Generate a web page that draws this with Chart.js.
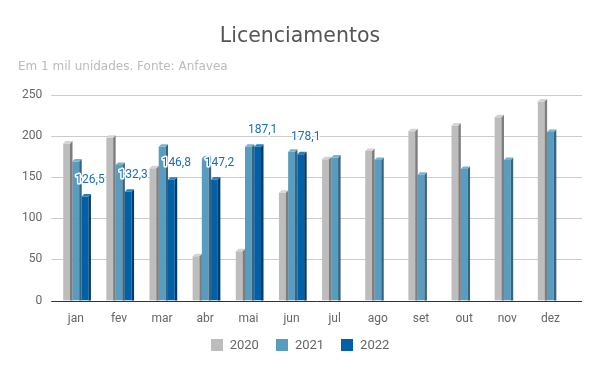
<!DOCTYPE html>
<html>
<head>
<meta charset="utf-8">
<script src="https://cdn.jsdelivr.net/npm/chart.js@4"></script>
<style>
  body { margin: 0; background: #fff; }
  #wrap { width: 600px; height: 371px; }
</style>
</head>
<body>
<div id="wrap"><canvas id="chart" width="600" height="371"></canvas></div>
<script>
// Licenciamentos (mil unidades)
const months = ['jan', 'fev', 'mar', 'abr', 'mai', 'jun', 'jul', 'ago', 'set', 'out', 'nov', 'dez'];
const values2020 = [191, 198, 161, 54, 60, 131, 172, 182, 206, 213, 223, 242];
const values2021 = [169, 165, 187, 173, 187, 181, 174, 171, 153, 160, 171, 205];
const values2022 = [126.5, 132.3, 146.8, 147.2, 187.1, 178.1, null, null, null, null, null, null];
const yTicks = [0, 50, 100, 150, 200, 250];

const colors = {
    '2020': { front: '#bdbdbd', side: '#7d7d7d', top: '#d4d4d4' },
    '2021': { front: '#589cc0', side: '#356480', top: '#78b2d0' },
    '2022': { front: '#0060a8', side: '#003c6c', top: '#2a7cc0' }
};

// Gridlines a bit wider than the plot, like the original
const gridPlugin = {
    id: 'wideGrid',
    beforeDatasetsDraw(chart) {
        const { ctx, chartArea, scales } = chart;
        ctx.save();
        ctx.lineWidth = 1;
        yTicks.forEach(v => {
            const y = Math.round(scales.y.getPixelForValue(v)) + 0.5;
            ctx.strokeStyle = v === 0 ? '#333' : '#cccccc';
            ctx.beginPath();
            ctx.moveTo(chartArea.left - 3, y);
            ctx.lineTo(chartArea.right + 10, y);
            ctx.stroke();
        });
        ctx.restore();
    }
};

// Fake 3D: side and top faces on every bar
const depthPlugin = {
    id: 'depth',
    afterDatasetsDraw(chart) {
        const { ctx } = chart;
        const d = 2.5;
        chart.data.datasets.forEach((ds, i) => {
            const c = colors[ds.label];
            chart.getDatasetMeta(i).data.forEach((bar, j) => {
                if (ds.data[j] == null) return;
                const { x, y, base, width } = bar.getProps(['x', 'y', 'base', 'width'], true);
                const l = x - width / 2, r = x + width / 2;
                ctx.save();
                ctx.fillStyle = c.side;
                ctx.beginPath();
                ctx.moveTo(r, y);
                ctx.lineTo(r + d, y - d);
                ctx.lineTo(r + d, base);
                ctx.lineTo(r, base);
                ctx.closePath();
                ctx.fill();
                ctx.fillStyle = c.top;
                ctx.beginPath();
                ctx.moveTo(l, y);
                ctx.lineTo(l + d, y - d);
                ctx.lineTo(r + d, y - d);
                ctx.lineTo(r, y);
                ctx.closePath();
                ctx.fill();
                ctx.restore();
            });
        });
    }
};

// Value labels over the 2022 bars
const labelPlugin = {
    id: 'labels2022',
    afterDatasetsDraw(chart) {
        const { ctx } = chart;
        const meta = chart.getDatasetMeta(2);
        ctx.save();
        ctx.font = '12px Roboto';
        ctx.textAlign = 'center';
        ctx.textBaseline = 'middle';
        ctx.lineJoin = 'round';
        meta.data.forEach((bar, j) => {
            const v = values2022[j];
            if (v == null) return;
            const txt = v.toFixed(1).replace('.', ',');
            const tx = bar.x + 5, ty = bar.y - 17;
            ctx.strokeStyle = '#ffffff';
            ctx.lineWidth = 3;
            ctx.strokeText(txt, tx, ty);
            ctx.fillStyle = '#1a6cbc';
            ctx.fillText(txt, tx, ty);
        });
        ctx.restore();
    }
};

// Legend at the bottom, drawn by hand so it can sit close to the axis labels
const legendPlugin = {
    id: 'bottomLegend',
    afterDraw(chart) {
        const { ctx } = chart;
        const box = 12, gap = 7, pad = 17, yMid = 345;
        ctx.save();
        ctx.font = '13px Roboto';
        ctx.textBaseline = 'middle';
        const items = chart.data.datasets.map(ds => ({ label: ds.label, color: ds.backgroundColor, w: box + gap + ctx.measureText(ds.label).width }));
        const total = items.reduce((s, it) => s + it.w, 0) + pad * (items.length - 1);
        let x = (chart.width - total) / 2;
        items.forEach(it => {
            ctx.fillStyle = it.color;
            ctx.fillRect(Math.round(x), yMid - box / 2, box, box);
            ctx.fillStyle = '#666666';
            ctx.fillText(it.label, x + box + gap, yMid + 1);
            x += it.w + pad;
        });
        ctx.restore();
    }
};

new Chart(document.getElementById('chart'), {
    type: 'bar',
    data: {
        labels: months,
        datasets: [
            { label: '2020', data: values2020, backgroundColor: colors['2020'].front },
            { label: '2021', data: values2021, backgroundColor: colors['2021'].front },
            { label: '2022', data: values2022, backgroundColor: colors['2022'].front }
        ]
    },
    options: {
        responsive: false,
        animation: false,
        layout: { padding: { left: 18, right: 18, top: 4, bottom: 42 } },
        datasets: { bar: { categoryPercentage: 0.64, barPercentage: 0.74 } },
        plugins: {
            title: {
                display: true,
                text: 'Licenciamentos',
                color: '#555555',
                font: { family: 'DejaVu Sans', size: 20.5, weight: 'normal' },
                padding: { top: 20, bottom: 10 }
            },
            subtitle: {
                display: true,
                text: 'Em 1 mil unidades. Fonte: Anfavea',
                align: 'start',
                color: '#bbbbbb',
                font: { family: 'DejaVu Sans', size: 12, weight: 'normal' },
                padding: { top: 1, bottom: 21 }
            },
            legend: { display: false },
            tooltip: { enabled: false }
        },
        scales: {
            x: {
                grid: { display: false },
                border: { display: false },
                ticks: { color: '#666666', font: { family: 'Roboto', size: 12 }, padding: 3 }
            },
            y: {
                min: 0,
                max: 250,
                afterBuildTicks: axis => { axis.ticks = yTicks.map(v => ({ value: v })); },
                grid: { display: false },
                border: { display: false },
                ticks: { color: '#666666', font: { family: 'Roboto', size: 12 }, padding: 4 }
            },
            // empty strip on the right keeps room for the wider gridlines
            yr: {
                type: 'linear',
                position: 'right',
                grid: { display: false },
                border: { display: false },
                ticks: { display: false },
                afterFit: scale => { scale.width = 10; }
            }
        }
    },
    plugins: [gridPlugin, depthPlugin, labelPlugin, legendPlugin]
});
</script>
</body>
</html>
